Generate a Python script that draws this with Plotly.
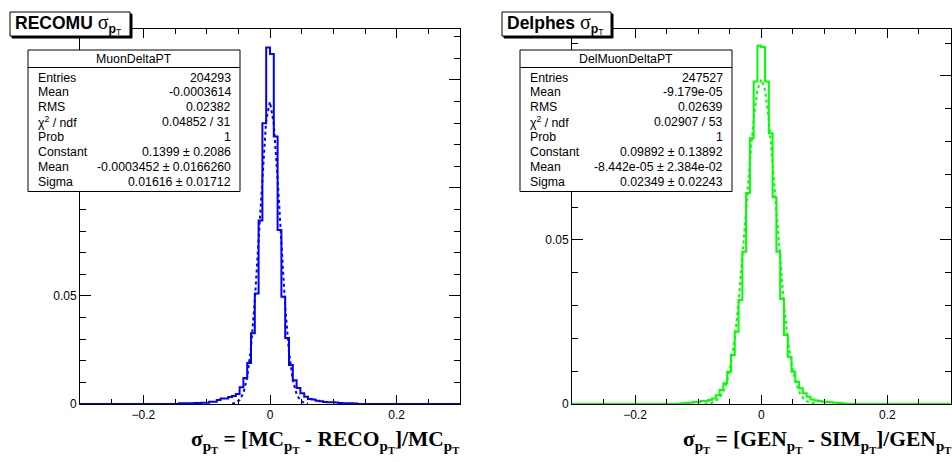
import numpy as np
import plotly.graph_objects as go

W, H = 952, 462

# ---------------- data ----------------
BIN_LO, BIN_HI, NBINS = -0.3, 0.3, 100

# RECOMU histogram (fraction per bin), bins 26..72, others zero
recomu_start = 26
recomu_vals = [0.0003, 0.0003, 0.0004, 0.0004, 0.0005, 0.0005, 0.0006, 0.0006,
               0.0010, 0.0010, 0.0018, 0.0025, 0.0025, 0.0032, 0.0037, 0.0046,
               0.0078, 0.0120, 0.0190, 0.0328, 0.0512, 0.0850, 0.1300, 0.1650,
               0.1620, 0.1238, 0.0806, 0.0497, 0.0305, 0.0180, 0.0110, 0.0074,
               0.0050, 0.0034, 0.0023, 0.0021, 0.0015, 0.0013, 0.0009, 0.0008,
               0.0008, 0.0007, 0.0005, 0.0004, 0.0003, 0.0003, 0.0002]

# Delphes histogram, bins 28..72
delphes_start = 28
delphes_vals = [0.0001, 0.0002, 0.0003, 0.0004, 0.0006, 0.0006, 0.0009, 0.0009,
                0.0012, 0.0017, 0.0027, 0.0043, 0.0063, 0.0098, 0.0149, 0.0220,
                0.0317, 0.0464, 0.0643, 0.0810, 0.0983, 0.1092, 0.1088, 0.0983,
                0.0825, 0.0630, 0.0464, 0.0320, 0.0210, 0.0144, 0.0098, 0.0068,
                0.0048, 0.0033, 0.0022, 0.0014, 0.0011, 0.0009, 0.0007, 0.0006,
                0.0005, 0.0004, 0.0003, 0.0002, 0.0001]

# Gaussian fit curves
recomu_fit_x = [-0.060, -0.054, -0.048, -0.042, -0.036, -0.030, -0.024, -0.018, -0.012, -0.006,
                0.000, 0.006, 0.012, 0.018, 0.024, 0.030, 0.036, 0.042, 0.048, 0.054, 0.060]
recomu_fit_y = [0.00015, 0.00057, 0.00181, 0.00505, 0.01227, 0.0260, 0.0479, 0.0770, 0.1079, 0.1316,
                0.1399, 0.1295, 0.1045, 0.0734, 0.0450, 0.0240, 0.01115, 0.00452, 0.00159, 0.00049, 0.00013]

delphes_fit_x = [-0.090, -0.084, -0.078, -0.072, -0.066, -0.060, -0.054, -0.048, -0.042, -0.036,
                 -0.030, -0.024, -0.018, -0.012, -0.006, 0.000, 0.006, 0.012, 0.018, 0.024,
                 0.030, 0.036, 0.042, 0.048, 0.054, 0.060, 0.066, 0.072, 0.078, 0.084, 0.090]
delphes_fit_y = [0.00006, 0.00017, 0.0004, 0.00091, 0.00193, 0.00383, 0.0071, 0.01235, 0.0201, 0.0307,
                 0.0440, 0.0589, 0.0740, 0.0870, 0.0958, 0.0989, 0.0957, 0.0867, 0.0735, 0.0585,
                 0.0436, 0.0304, 0.0199, 0.01217, 0.00698, 0.00376, 0.00189, 0.00089, 0.00039, 0.00016, 0.00006]

# y tick labels (labels at 0.1 / 0.15 are hidden behind the stats boxes in the original)
y_tickvals = [0, 0.05, 0.10, 0.15]
y_ticktext = ["0", "0.05", "", ""]

recomu_stats_name = "MuonDeltaPT"
recomu_stats_labels = ["Entries", "Mean", "RMS", "χ<sup>2</sup> / ndf", "Prob", "Constant", "Mean", "Sigma"]
recomu_stats_values = ["204293", "-0.0003614", "0.02382", "0.04852 / 31", "1",
                       "0.1399 ± 0.2086", "-0.0003452 ± 0.0166260", "0.01616 ± 0.01712"]

delphes_stats_name = "DelMuonDeltaPT"
delphes_stats_labels = ["Entries", "Mean", "RMS", "χ<sup>2</sup> / ndf", "Prob", "Constant", "Mean", "Sigma"]
delphes_stats_values = ["247527", "-9.179e-05", "0.02639", "0.02907 / 53", "1",
                        "0.09892 ± 0.13892", "-8.442e-05 ± 2.384e-02", "0.02349 ± 0.02243"]

Y_MAX_LEFT = 0.1736
Y_MAX_RIGHT = 0.1143

# ---------------- helpers ----------------
def px(x):
    return x / W

def py(y):
    return 1 - y / H

edges = np.linspace(BIN_LO, BIN_HI, NBINS + 1)

def full_hist(start, vals):
    h = np.zeros(NBINS)
    h[start:start + len(vals)] = vals
    return h

def step_xy(h):
    return list(edges), list(h) + [h[-1]]

fig = go.Figure()

SANS = "Liberation Sans, Arial, sans-serif"
SERIF = "Liberation Serif, Times New Roman, serif"

panels = [
    dict(xa="x", ya="y", start=recomu_start, vals=recomu_vals, fx=recomu_fit_x, fy=recomu_fit_y,
         color="#0000ff"),
    dict(xa="x2", ya="y2", start=delphes_start, vals=delphes_vals, fx=delphes_fit_x, fy=delphes_fit_y,
         color="#00ff00"),
]

for p in panels:
    hx, hy = step_xy(full_hist(p["start"], p["vals"]))
    fig.add_trace(go.Scatter(x=hx, y=hy, mode="lines", line=dict(color=p["color"], width=2, shape="hv"),
                             xaxis=p["xa"], yaxis=p["ya"], showlegend=False, hoverinfo="skip"))
    fig.add_trace(go.Scatter(x=p["fx"], y=p["fy"], mode="lines",
                             line=dict(color=p["color"], width=2, dash="dot"),
                             xaxis=p["xa"], yaxis=p["ya"], showlegend=False, hoverinfo="skip"))

ydom = [(H - 404) / H, (H - 29) / H]

def xaxis_cfg(dom):
    return dict(domain=dom, range=[BIN_LO, BIN_HI], showline=True, linecolor="black", linewidth=1,
                mirror="allticks", ticks="inside", ticklen=9, tickwidth=1, tickcolor="black",
                tick0=0, dtick=0.2, showgrid=False, zeroline=False, automargin=False,
                tickfont=dict(family=SANS, size=12, color="black"),
                minor=dict(ticks="inside", ticklen=5, dtick=0.05, tick0=0, tickcolor="black", showgrid=False))

def yaxis_cfg(ymax, anchor):
    return dict(domain=ydom, range=[0, ymax], anchor=anchor, showline=True, linecolor="black", linewidth=1,
                mirror="allticks", ticks="inside", ticklen=11, tickwidth=1, tickcolor="black",
                tickmode="array", tickvals=y_tickvals, ticktext=y_ticktext,
                showgrid=False, zeroline=False, automargin=False,
                tickfont=dict(family=SANS, size=12, color="black"),
                minor=dict(ticks="inside", ticklen=6, dtick=0.01, tick0=0, tickcolor="black", showgrid=False))

fig.update_layout(
    width=W, height=H, margin=dict(l=0, r=0, t=0, b=0, pad=0, autoexpand=False),
    paper_bgcolor="white", plot_bgcolor="white",
    xaxis=dict(xaxis_cfg([80 / W, 460 / W]), anchor="y"),
    xaxis2=dict(xaxis_cfg([572 / W, 950.5 / W]), anchor="y2"),
    yaxis=yaxis_cfg(Y_MAX_LEFT, "x"),
    yaxis2=yaxis_cfg(Y_MAX_RIGHT, "x2"),
)

shapes = []
annotations = []

def rect(x0, y0, x1, y1, fill="white", line="black", lw=1):
    shapes.append(dict(type="rect", xref="paper", yref="paper", x0=px(x0), x1=px(x1), y0=py(y1), y1=py(y0),
                       fillcolor=fill, line=dict(color=line, width=lw), layer="above"))

def hline(x0, x1, y, color="black"):
    shapes.append(dict(type="line", xref="paper", yref="paper", x0=px(x0), x1=px(x1), y0=py(y), y1=py(y),
                       line=dict(color=color, width=1), layer="above"))

def text(x, y, s, anchor="left", size=12, family=SANS, yanchor="middle"):
    annotations.append(dict(xref="paper", yref="paper", x=px(x), y=py(y), text=s, showarrow=False,
                            xanchor=anchor, yanchor=yanchor, font=dict(family=family, size=size, color="black"),
                            borderpad=0))

# stats boxes
for name, labels, values, off in [
    (recomu_stats_name, recomu_stats_labels, recomu_stats_values, 0),
    (delphes_stats_name, delphes_stats_labels, delphes_stats_values, 492),
]:
    rect(28 + off, 50, 240 + off, 191.5)
    hline(28 + off, 240 + off, 67.5)
    text(134 + off, 59, name, anchor="center", size=12.3)
    for j, (lab, val) in enumerate(zip(labels, values)):
        yy = 77.5 + 14.9 * j
        text(37 + off, yy, lab, anchor="left", size=12.3)
        text(232 + off, yy, val, anchor="right", size=12.3)

# title boxes (with ROOT-style shadow)
sig = "<span style='font-family:Liberation Serif;font-size:20px'>σ</span>"
for label, x0, x1 in [("RECOMU", 10, 130), ("Delphes", 502, 611)]:
    rect(x0 + 2, 14, x1 + 2, 38, fill="black")
    rect(x0, 12, x1, 36)
    text(x0 + 4, 24, "<b>%s</b> %s<sub><b>p</b><sub>T</sub></sub>" % (label, sig),
         anchor="left", size=17.5)

# x-axis titles
xt1 = "<b>σ<sub>p<sub>T</sub></sub> = [MC<sub>p<sub>T</sub></sub> - RECO<sub>p<sub>T</sub></sub>]/MC<sub>p<sub>T</sub></sub></b>"
xt2 = "<b>σ<sub>p<sub>T</sub></sub> = [GEN<sub>p<sub>T</sub></sub> - SIM<sub>p<sub>T</sub></sub>]/GEN<sub>p<sub>T</sub></sub></b>"
text(460, 441, xt1, anchor="right", size=21.5, family=SERIF)
text(952, 441, xt2, anchor="right", size=21.5, family=SERIF)

fig.update_layout(shapes=shapes, annotations=annotations)
fig.write_html("out.html")
